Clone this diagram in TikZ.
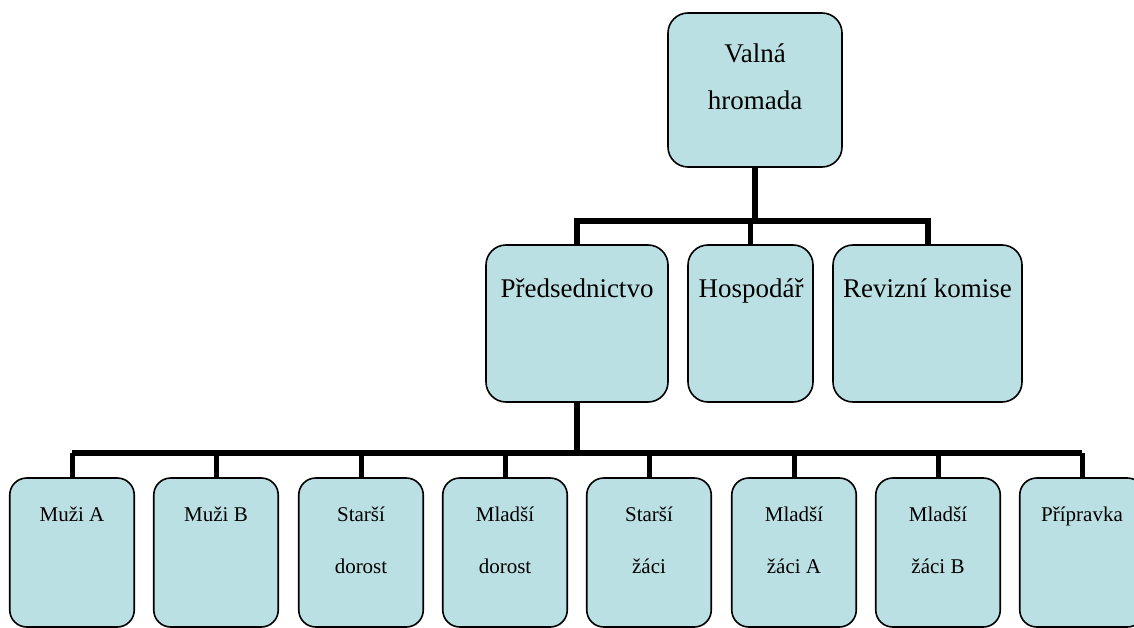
\documentclass[tikz,border=0pt]{standalone}
\usepackage{fontspec}
\setmainfont{Liberation Serif}
\definecolor{boxfill}{RGB}{187,224,227}
\tikzset{
  box/.style={draw=black, line width=1.6pt, fill=boxfill, rounded corners=20pt, inner sep=0pt},
  bigbox/.style={box, minimum height=157pt},
  smallbox/.style={box, rounded corners=17pt, minimum width=124.5pt, minimum height=149pt},
  bigtxt/.style={anchor=base, inner sep=0pt, font=\fontsize{27}{32}\selectfont},
  smalltxt/.style={anchor=base, inner sep=0pt, font=\fontsize{21}{25}\selectfont},
  conn/.style={draw=black, line width=6pt},
  drop/.style={draw=black, line width=5pt}
}
\begin{document}
\begin{tikzpicture}[x=1pt,y=-1pt]
\useasboundingbox (0,0) rectangle (1134,628);
% top
\node[box, minimum width=174pt, minimum height=154pt] (vh) at (755,90) {};
\node[bigtxt] (vh1) at (755,63) {Valná};
\node[bigtxt] (vh2) at (755,110) {hromada};
% middle
\node[bigbox, minimum width=182pt] (pred) at (577,323.5) {};
\node[bigbox, minimum width=125pt] (hosp) at (750.5,323.5) {};
\node[bigbox, minimum width=189pt] (rev) at (927.5,323.5) {};
\node[bigtxt] (predt) at (577,297) {Předsednictvo};
\node[bigtxt] (hospt) at (751,297) {Hospodář};
\node[bigtxt] (revt) at (927.5,297) {Revizní komise};
% bottom
\foreach \n/\x/\a/\b in {
  b1/72/{Muži A}/{},
  b2/216/{Muži B}/{},
  b3/361/{Starší}/{dorost},
  b4/505/{Mladší}/{dorost},
  b5/649/{Starší}/{žáci},
  b6/794/{Mladší}/{žáci A},
  b7/938/{Mladší}/{žáci B},
  b8/1082/{Přípravka}/{}}{
  \node[smallbox] (\n) at (\x,552.5) {};
  \node[smalltxt] (\n t1) at (\x,521) {\a};
  \node[smalltxt] (\n t2) at (\x,573) {\b};
}
% connectors top -> middle
\coordinate (bus1) at (755,221);
\draw[conn] (vh.south) -- (vh.south |- bus1);
\draw[conn] (pred.north) -- (pred.north |- bus1) -- (rev.north |- bus1) -- (rev.north);
\draw[drop] (hosp.north) -- (hosp.north |- bus1);
% connectors middle -> bottom
\coordinate (bus2) at (577,453);
\draw[conn] (pred.south) -- (pred.south |- bus2);
\draw[conn] (b1.north |- bus2) -- (b8.north |- bus2);
\foreach \n in {b1,b2,b3,b4,b5,b6,b7,b8}{
  \draw[drop] (\n.north) -- (\n.north |- bus2);
}
\end{tikzpicture}
\end{document}
